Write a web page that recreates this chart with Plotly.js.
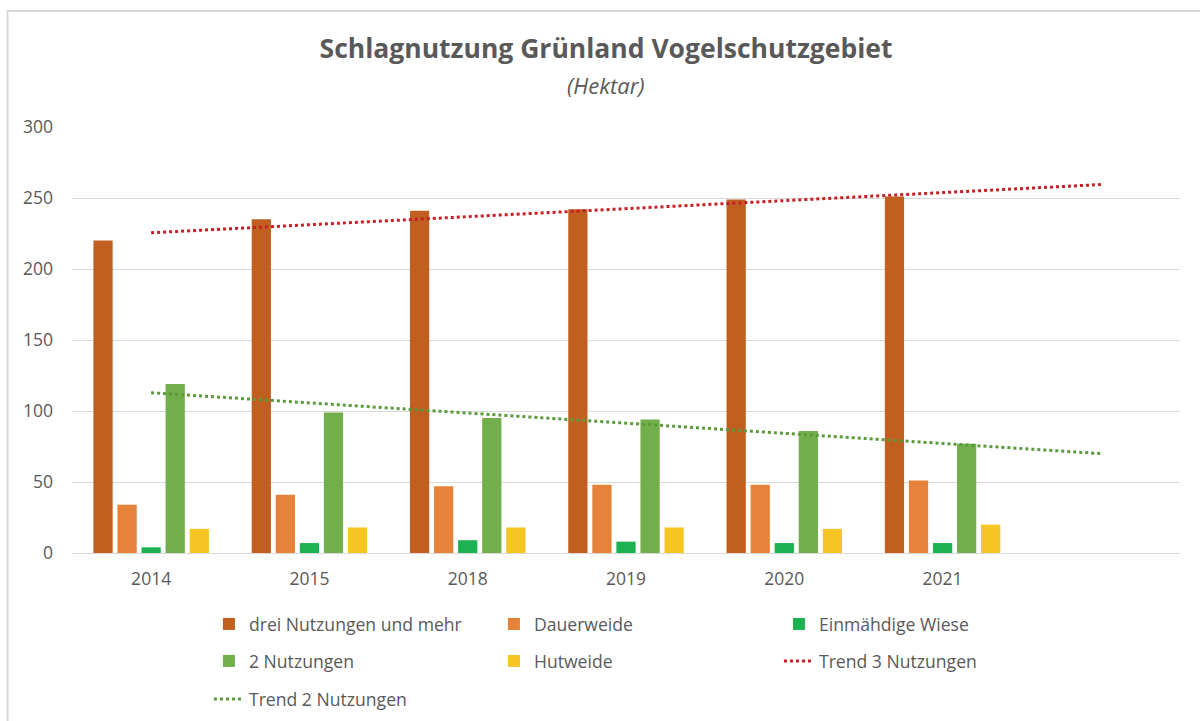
<!DOCTYPE html>
<html>
<head>
<meta charset="utf-8">
<script src="https://cdn.plot.ly/plotly-3.0.1.min.js"></script>
<style>html,body{margin:0;padding:0;background:#fff;}#chart{width:1200px;height:721px;}</style>
</head>
<body>
<div id="chart"></div>
<script>
// ---- data ----
const years = ['2014', '2015', '2018', '2019', '2020', '2021'];
const dreiNutzungen = [220, 235, 241, 242, 249, 251];
const dauerweide = [34, 41, 47, 48, 48, 51];
const einmaehdigeWiese = [4, 7, 9, 8, 7, 7];
const zweiNutzungen = [119, 99, 95, 94, 86, 77];
const hutweide = [17, 18, 18, 18, 17, 20];
const yTicks = [0, 50, 100, 150, 200, 250, 300];

// category positions 1..n, plus one forecast period for trend lines
const pos = years.map((_, i) => i + 1);

function linearTrend(ys, forward) {
  const n = ys.length;
  const xs = ys.map((_, i) => i + 1);
  const mx = xs.reduce((a, b) => a + b, 0) / n;
  const my = ys.reduce((a, b) => a + b, 0) / n;
  let sxy = 0, sxx = 0;
  for (let i = 0; i < n; i++) { sxy += (xs[i] - mx) * (ys[i] - my); sxx += (xs[i] - mx) ** 2; }
  const b = sxy / sxx, a = my - b * mx;
  const x0 = 1, x1 = n + forward;
  return { x: [x0, x1], y: [a + b * x0, a + b * x1] };
}
const trend3 = linearTrend(dreiNutzungen, 1);
const trend2 = linearTrend(zweiNutzungen, 1);

const FONT = 'Open Sans, sans-serif';
const GREY = '#595959';

const traces = [
  { type: 'bar', name: 'drei Nutzungen und mehr', x: pos, y: dreiNutzungen, marker: { color: '#C05F1F' }, legend: 'legend' },
  { type: 'bar', name: 'Dauerweide', x: pos, y: dauerweide, marker: { color: '#E6823A' }, legend: 'legend' },
  { type: 'bar', name: 'Einmähdige Wiese', x: pos, y: einmaehdigeWiese, marker: { color: '#1DB152' }, legend: 'legend' },
  { type: 'bar', name: '2 Nutzungen', x: pos, y: zweiNutzungen, marker: { color: '#72AF4A' }, legend: 'legend2' },
  { type: 'bar', name: 'Hutweide', x: pos, y: hutweide, marker: { color: '#F5C523' }, legend: 'legend2' },
  { type: 'scatter', mode: 'lines', name: 'Trend 3 Nutzungen', x: trend3.x, y: trend3.y,
    line: { color: '#C81E26', width: 3, dash: 'dot' }, legend: 'legend2' },
  { type: 'scatter', mode: 'lines', name: 'Trend 2 Nutzungen', x: trend2.x, y: trend2.y,
    line: { color: '#5A9A3C', width: 3, dash: 'dot' }, legend: 'legend3' }
];

function leg(y) {
  return {
    orientation: 'h', x: 0.1236, xanchor: 'left', y: y, yanchor: 'middle',
    entrywidth: 240, entrywidthmode: 'pixels', traceorder: 'normal',
    font: { family: FONT, size: 17.6, color: GREY }, bgcolor: 'rgba(0,0,0,0)'
  };
}

const layout = {
  width: 1200, height: 721,
  margin: { l: 72, r: 20, t: 127, b: 168, autoexpand: false },
  paper_bgcolor: '#ffffff', plot_bgcolor: '#ffffff',
  font: { family: FONT, color: GREY },
  title: {
    text: '<b>Schlagnutzung Grünland Vogelschutzgebiet</b>',
    font: { family: FONT, size: 26.5, color: GREY },
    x: 0.505, xanchor: 'center', xref: 'container',
    y: 0.932, yanchor: 'middle', yref: 'container'
  },
  annotations: [{
    text: '<i>(Hektar)</i>', xref: 'paper', yref: 'paper',
    x: (606 - 72) / 1108, y: (553 - 85) / 426, xanchor: 'center', yanchor: 'middle',
    showarrow: false, font: { family: FONT, size: 22, color: GREY }
  }],
  barmode: 'group', bargap: 0.24, bargroupgap: 0.2,
  xaxis: {
    range: [0.5, 7.5], tickmode: 'array', tickvals: pos, ticktext: years,
    showgrid: false, zeroline: false, showline: true, linecolor: '#d9d9d9', linewidth: 1,
    ticks: '', ticklabelstandoff: 10,
    tickfont: { family: FONT, size: 17.5, color: GREY }, fixedrange: true
  },
  yaxis: {
    range: [0, 300], tickmode: 'array', tickvals: yTicks,
    showgrid: true, gridcolor: '#d9d9d9', gridwidth: 1, zeroline: false, showline: false,
    ticks: '', ticklabelstandoff: 18,
    tickfont: { family: FONT, size: 17.5, color: GREY }, fixedrange: true
  },
  showlegend: true,
  legend: leg(-0.1667),
  legend2: leg(-0.2535),
  legend3: leg(-0.3427),
  shapes: [{
    type: 'rect', xref: 'paper', yref: 'paper',
    x0: (7.5 - 72) / 1108, x1: 1.3, y0: -0.8, y1: (553 - 11) / 426,
    line: { color: '#d9d9d9', width: 2 }, fillcolor: 'rgba(0,0,0,0)', layer: 'below'
  }]
};

Plotly.newPlot('chart', traces, layout, { displayModeBar: false, staticPlot: true });
</script>
</body>
</html>
